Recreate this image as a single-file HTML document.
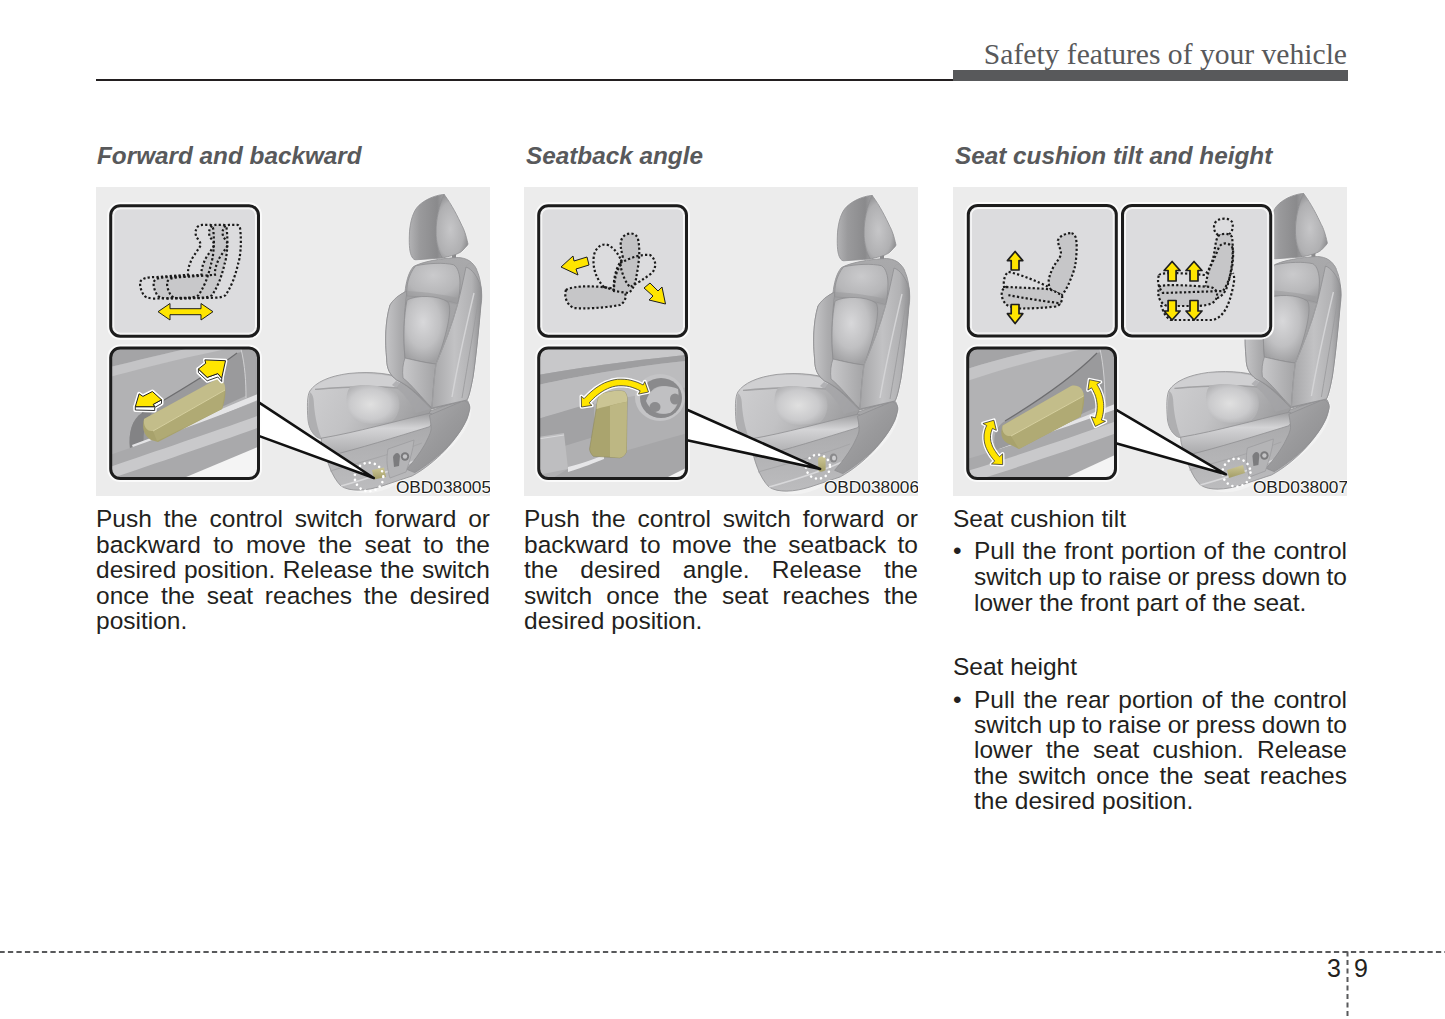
<!DOCTYPE html>
<html><head><meta charset="utf-8">
<style>
html,body{margin:0;padding:0;background:#fff;}
body{width:1445px;height:1019px;position:relative;overflow:hidden;font-family:"Liberation Sans",sans-serif;color:#231f20;}
.abs{position:absolute;}
.hdr{position:absolute;right:98px;top:40px;font-family:"Liberation Serif",serif;font-size:29.6px;color:#58595b;white-space:nowrap;line-height:1;}
.rule{position:absolute;left:96px;top:79px;width:857px;height:2px;background:#231f20;}
.bar{position:absolute;left:953px;top:70px;width:395px;height:11px;background:#58595b;}
h2{position:absolute;margin:0;font-size:24.3px;font-weight:bold;font-style:italic;color:#58595b;white-space:nowrap;line-height:1;}
.box{position:absolute;top:187px;width:394px;height:309px;background:#ececec;overflow:hidden;}
.cap{position:absolute;right:-1px;bottom:0px;font-size:17.3px;line-height:1;color:#231f20;text-shadow:1px 0 0 #fff,-1px 0 0 #fff,0 1px 0 #fff,0 -1px 0 #fff;}
.ln{position:absolute;font-size:24.5px;line-height:30px;height:30px;margin-top:-22.8px;white-space:nowrap;text-align:left;}
.j{text-align:justify;text-align-last:justify;word-spacing:-2px;}
.pg{position:absolute;font-size:25px;line-height:1;color:#231f20;}
</style></head>
<body>
<!--GEN-DEFS--><svg width="0" height="0" style="position:absolute">
<defs>
<linearGradient id="gHeadL" x1="0" y1="0" x2="1" y2="0"><stop offset="0" stop-color="#b2b2b4"/><stop offset="0.3" stop-color="#9a9a9c"/><stop offset="0.8" stop-color="#8a8a8c"/><stop offset="1" stop-color="#a2a2a4"/></linearGradient>
<radialGradient id="gHeadR" cx="0.45" cy="0.55" r="0.6"><stop offset="0" stop-color="#c6c6c8"/><stop offset="0.7" stop-color="#b0b0b2"/><stop offset="1" stop-color="#8c8c8e"/></radialGradient>
<linearGradient id="gBack" x1="0" y1="0" x2="0" y2="1"><stop offset="0" stop-color="#a9a9ab"/><stop offset="1" stop-color="#9c9c9e"/></linearGradient>
<linearGradient id="gBolL" x1="0" y1="0" x2="1" y2="0"><stop offset="0" stop-color="#c4c4c6"/><stop offset="0.35" stop-color="#acacae"/><stop offset="1" stop-color="#8e8e90"/></linearGradient>
<linearGradient id="gBolR" x1="0" y1="0" x2="1" y2="0"><stop offset="0" stop-color="#a6a6a8"/><stop offset="0.45" stop-color="#c2c2c4"/><stop offset="0.8" stop-color="#b2b2b4"/><stop offset="1" stop-color="#909092"/></linearGradient>
<radialGradient id="gLumb" cx="0.42" cy="0.38" r="0.62"><stop offset="0" stop-color="#d8d8da"/><stop offset="0.6" stop-color="#c0c0c2"/><stop offset="1" stop-color="#a0a0a2"/></radialGradient>
<radialGradient id="gShoul" cx="0.5" cy="0.3" r="0.7"><stop offset="0" stop-color="#cacacc"/><stop offset="0.7" stop-color="#b6b6b8"/><stop offset="1" stop-color="#a0a0a2"/></radialGradient>
<linearGradient id="gStrip" x1="0" y1="0" x2="1" y2="0"><stop offset="0" stop-color="#c8c8ca"/><stop offset="1" stop-color="#a4a4a6"/></linearGradient>
<linearGradient id="gCush" x1="0" y1="0" x2="1" y2="0.3"><stop offset="0" stop-color="#d0d0d2"/><stop offset="0.5" stop-color="#c2c2c4"/><stop offset="1" stop-color="#9e9ea0"/></linearGradient>
<radialGradient id="gBulge" cx="0.45" cy="0.5" r="0.55"><stop offset="0" stop-color="#e0e0e0"/><stop offset="0.7" stop-color="#cacacc"/><stop offset="1" stop-color="#b4b4b6"/></radialGradient>
<linearGradient id="gBase" x1="0" y1="0" x2="0" y2="1"><stop offset="0" stop-color="#a2a2a4"/><stop offset="0.5" stop-color="#b0b0b2"/><stop offset="1" stop-color="#bcbcbe"/></linearGradient>
<linearGradient id="gRoll" x1="0" y1="0" x2="0" y2="1"><stop offset="0" stop-color="#9e9ea0"/><stop offset="0.35" stop-color="#d4d4d6"/><stop offset="1" stop-color="#a8a8aa"/></linearGradient>
<linearGradient id="gCover" x1="0" y1="0" x2="1" y2="1"><stop offset="0" stop-color="#b0b0b2"/><stop offset="0.5" stop-color="#9a9a9c"/><stop offset="1" stop-color="#8a8a8c"/></linearGradient>
<linearGradient id="gPanel" x1="0" y1="0" x2="0.3" y2="1"><stop offset="0" stop-color="#b0b0b2"/><stop offset="0.35" stop-color="#a0a0a2"/><stop offset="0.7" stop-color="#bcbcbe"/><stop offset="1" stop-color="#aeaeb0"/></linearGradient>
<linearGradient id="gKhaki" x1="0" y1="0" x2="0" y2="1"><stop offset="0" stop-color="#cdc796"/><stop offset="1" stop-color="#a29c66"/></linearGradient>
<filter id="blur05"><feGaussianBlur stdDeviation="0.7"/></filter>
<filter id="blur2" x="-30%" y="-30%" width="160%" height="160%"><feGaussianBlur stdDeviation="2"/></filter>
<symbol id="seat" overflow="visible">
 <!-- white halo silhouette -->
 <g fill="#f2f2f2" stroke="#f2f2f2" stroke-width="2.2" stroke-linejoin="round">
  <path d="M348.2,7.4 C338,8 326,14 320.8,20.7 C316,27 313.5,38 313.3,48.9 C313,58 313.5,66 316,70 C317,72 318.5,73 320,72.8 L339.3,71.5 L353.5,69.3 C359,68 364,66 366,64 C369,61 372,58 372,56.9 C370,48 368,42 365.8,38.3 C362,30 356,18 348.2,7.4 Z"/>
  <path d="M317.3,79.7 C325,75 345,71 362.3,70.5 C370,71 377,74 380.7,83 C385,92 386,104 385,114 C383,140 380,170 377,190 C374,206 372,212 371,214 C374,215 376,222 372,234 C366,250 350,266 330,280 L300,296 C290,302 278,306 266,305 C256,304 248,300 244,292 C238,282 234,272 230,258 C220,254 214,245 212,230 C211,220 211,210 213.8,204 C220,195 233,189 253,186.4 C275,185 295,188 301,192 C294,188 290,182 290.7,172 C289,155 289,135 294,118 C300,110 306,107 309,104.7 C310,96 312,86 317.3,79.7 Z"/>
 </g>
 <!-- headrest post -->
 <rect x="356" y="64" width="4" height="10" fill="#8a8a8c"/>
 <!-- base side panel -->
 <path d="M226,252 C230,274 236,290 245,299 C254,305 270,304 286,299 L316,289 C340,276 362,252 371,232 C375,222 374,212 368,212 L334,224 Z" fill="url(#gBase)" stroke="#8e8e90" stroke-width="0.8"/>
 <path d="M234,284 C262,276 300,266 326,256" stroke="#a6a6a8" stroke-width="1" fill="none"/>
 <path d="M245,299 C270,292 296,284 318,274" stroke="#d8d8da" stroke-width="1.4" fill="none"/>
 <!-- cushion -->
 <path d="M213.8,204 C220,195 233,189 253,186.4 C277,184 296,187 309,192 L336,221 L332,228 C300,236 262,246 226,252 C219,251 213,243 212,233 C211,220 211,209 213.8,204 Z" fill="url(#gCush)" stroke="#8e8e90" stroke-width="0.8"/>
 <path d="M216,202 C222,196 236,190 253,187.5 C277,186 296,188 306,193 L300,201 C280,199 250,199 222,202 Z" fill="#d0d0d2"/>
 <path d="M219,202.5 C250,199.5 280,199 302,201" stroke="#a2a2a4" stroke-width="1.6" fill="none" filter="url(#blur05)"/>
 <path d="M213.8,205 C212,215 212,230 213,238 C215,246 220,252 226,252 C222,244 219,230 218,218 C218,212 217,207 213.8,205 Z" fill="#a9a9ab" opacity="0.8" filter="url(#blur05)"/>
 <path d="M254,200 C266,196 288,198 300,206 C306,214 304,228 296,234 C282,238 266,238 258,232 C250,224 248,208 254,200 Z" fill="url(#gBulge)" filter="url(#blur05)"/>
 <path d="M300,194 C310,198 322,206 334,222 L320,226 C314,214 306,204 296,198 Z" fill="#a4a4a6" opacity="0.7"/>
 <!-- cushion front roll -->
 <path d="M225.3,251.2 C262,245 300,234 331.9,226.6 C338,225 340,232 333.5,239.7 C300,250 262,262 231.9,269.2 C228,265 225,258 225.3,251.2 Z" fill="url(#gRoll)" stroke="#8e8e90" stroke-width="0.8"/>
 <!-- side cover -->
 <path d="M333.5,228.2 L368,213.5 C374,216 375,220 372.9,225 C370,235 366,242 361.4,247.9 C356,255 350,262 343.3,267.6 C336,274 328,280 318.8,285.6 L310.6,282.3 C318,274 324,266 328.6,257.8 C332,251 335,246 335.1,241.4 C335,236 334,232 333.5,228.2 Z" fill="url(#gCover)" stroke="#8e8e90" stroke-width="0.8"/>
 <!-- backrest outer -->
 <path d="M317.3,79.7 C325,75 345,71 362.3,70.5 C370,71 377,74 380.7,83 C385,92 386,104 385,114 C383,140 380,170 377,190 C374,206 372,212 370.7,213 L336,222 C325,212 315,200 300.7,193 C294,188 290.7,182 290.7,172 C289,155 289,135 294,118 C300,110 306,107 309,104.7 C310,96 312,86 317.3,79.7 Z" fill="url(#gBack)" stroke="#8e8e90" stroke-width="0.8"/>
 <!-- left bolster -->
 <path d="M311,104 C302,108 297,113 294,118 C289,135 289,155 290.7,172 C290.7,182 294,188 300.7,193 C312,198 320,206 330,215 C322,200 312,185 309,171 C307,150 308,125 311,104 Z" fill="url(#gBolL)" stroke="#8e8e90" stroke-width="0.8"/>
 <!-- shoulder panel -->
 <path d="M319.6,78.8 C333,76 348,75.5 357.4,77.7 C362,80 364,88 364,96 C364,104 363,111 361.8,116.6 C350,113 330,110 311,109 C310,100 312,88 319.6,78.8 Z" fill="url(#gShoul)" stroke="#8e8e90" stroke-width="0.8"/>
 <path d="M311,104 C330,105 350,108 362.5,111 L361.8,118 C350,115 330,112 311,112 Z" fill="#9c9c9e" opacity="0.55" filter="url(#blur05)"/>
 <!-- lumbar -->
 <path d="M311,113 C320,108 342,108 352,115 C357,122 350,150 340,177 C330,176 318,173 309,171 C307,150 308,128 311,113 Z" fill="url(#gLumb)" stroke="#8e8e90" stroke-width="0.8"/>
 <path d="M309,171 C318,173 330,176 340,177 C338,192 337,206 336,221 C325,210 316,198 307,191 C306,184 307,176 309,171 Z" fill="url(#gStrip)" stroke="#8e8e90" stroke-width="0.8"/>
 <!-- right bolster -->
 <path d="M361.8,116.6 C364,108 368,90 370,80 C376,82 382,90 385,100 C386,106 386,112 385,118 C383,140 380,170 377,190 C374,206 372,212 370.7,213 L336,221 C337,205 338,190 340,177 C348,158 356,138 361.8,116.6 Z" fill="url(#gBolR)" stroke="#8e8e90" stroke-width="0.8"/>
 <path d="M378,106 C370,140 362,175 356,210" stroke="#d4d4d6" stroke-width="1.4" fill="none"/>
 <path d="M383,110 C378,140 372,175 366,211" stroke="#9c9c9e" stroke-width="0.9" fill="none"/>
 <path d="M361.8,116.6 C356,138 348,158 340,177 C338,192 337,206 336,221" stroke="#a0a0a2" stroke-width="1" fill="none"/>
 <path d="M370,80 C372,74 378,76 381,83" stroke="#a4a4a6" stroke-width="0.8" fill="none"/>
 <!-- headrest -->
 <path d="M348.2,7.4 C338,8 326,14 320.8,20.7 C316,27 313.5,38 313.3,48.9 C313,58 313.5,66 316,70 C317,72 318.5,73 320,72.8 L339.3,71.5 L346.4,71 C342,64 340,55 340,45 C340,32 343,18 348.2,7.4 Z" fill="url(#gHeadL)" stroke="#8e8e90" stroke-width="0.8"/>
 <path d="M348.2,7.4 C343,18 340,32 340,45 C340,55 342,64 346.4,71 L353.5,69.3 C359,68 364,66 366,64 C369,61 372,58 372,56.9 C370,48 368,42 365.8,38.3 C362,30 356,18 348.2,7.4 Z" fill="url(#gHeadR)" stroke="#8e8e90" stroke-width="0.8"/>
</symbol>
</defs></svg><!--/GEN-DEFS-->

<div class="hdr">Safety features of your vehicle</div>
<div class="rule"></div>
<div class="bar"></div>

<h2 style="left:97px;top:143.5px;">Forward and backward</h2>
<h2 style="left:526px;top:143.5px;">Seatback angle</h2>
<h2 style="left:955px;top:143.5px;">Seat cushion tilt and height</h2>

<div class="box" style="left:96px;"><!--GEN-b1--><svg width="394" height="309" style="position:absolute;left:0;top:0;overflow:hidden"><use href="#seat"/><path d="M292,262 L318,253 C317,263 314,273 310,285 L294,291 C291,282 290,272 292,262 Z" fill="#b4b4b6" stroke="#9a9a9c" stroke-width="0.7"/><path d="M297,270 C299,265 303,265 304,269 L303,279 L298,280 Z" fill="#7c7c7e"/><circle cx="309" cy="269.5" r="4.2" fill="#7a7a7c"/><circle cx="309" cy="269.5" r="2.2" fill="#c4c4c6"/><path d="M276,283 L288,280.5 L290,290 L278,292.5 Z" fill="url(#gKhaki)"/><circle cx="273" cy="290" r="14.3" fill="none" stroke="#fff" stroke-width="2.6" stroke-linecap="round" stroke-dasharray="0.01 5.2"/><rect x="14.7" y="18.7" width="147.8" height="130.5" rx="9.5" fill="#dcdcde" stroke="#fafafa" stroke-width="7"/><rect x="16.9" y="20.9" width="143.4" height="126.1" rx="7.5" fill="none" stroke="#ededee" stroke-width="1"/><rect x="14.7" y="18.7" width="147.8" height="130.5" rx="9.5" fill="none" stroke="#1c1c1c" stroke-width="3"/><path transform="translate(13.5,0)" d="M44.3,94.8 C46,91 52,90 61,90 L92,87.8 C91.5,84 93,77 97,70 C101,64 104,60 104.4,58.6 C105,55 102,52 100.8,50.7 C99,47 99.5,44 100,43 C101,39 104,38 106.1,37.9 L114.1,37.9 C116,38 117,40 117.2,42 C118,50 118,57 117.6,62 C117,70 116,74 115,77.2 C113,86 111,91 109.7,94.8 C107,101 104,106 102.6,108.1 C100,110 96,110.7 92,110.7 L56.7,111.6 C52,111 49,110 47.8,108.1 C45,104 43.5,98 44.3,94.8 Z" fill="#c8c8ca" stroke="none"/><path d="M44.3,94.8 C46,91 52,90 61,90 L92,87.8 C91.5,84 93,77 97,70 C101,64 104,60 104.4,58.6 C105,55 102,52 100.8,50.7 C99,47 99.5,44 100,43 C101,39 104,38 106.1,37.9 L114.1,37.9 C116,38 117,40 117.2,42 C118,50 118,57 117.6,62 C117,70 116,74 115,77.2 C113,86 111,91 109.7,94.8 C107,101 104,106 102.6,108.1 C100,110 96,110.7 92,110.7 L56.7,111.6 C52,111 49,110 47.8,108.1 C45,104 43.5,98 44.3,94.8 Z" fill="none" stroke="#1a1a1a" stroke-width="2.2" stroke-dasharray="2.2 2.2" fill="none"/><path transform="translate(13.5,0)" d="M44.3,94.8 C46,91 52,90 61,90 L92,87.8 C91.5,84 93,77 97,70 C101,64 104,60 104.4,58.6 C105,55 102,52 100.8,50.7 C99,47 99.5,44 100,43 C101,39 104,38 106.1,37.9 L114.1,37.9 C116,38 117,40 117.2,42 C118,50 118,57 117.6,62 C117,70 116,74 115,77.2 C113,86 111,91 109.7,94.8 C107,101 104,106 102.6,108.1 C100,110 96,110.7 92,110.7 L56.7,111.6 C52,111 49,110 47.8,108.1 C45,104 43.5,98 44.3,94.8 Z" fill="none" stroke="#1a1a1a" stroke-width="2.2" stroke-dasharray="2.2 2.2" fill="none"/><path transform="translate(27,0)" d="M44.3,94.8 C46,91 52,90 61,90 L92,87.8 C91.5,84 93,77 97,70 C101,64 104,60 104.4,58.6 C105,55 102,52 100.8,50.7 C99,47 99.5,44 100,43 C101,39 104,38 106.1,37.9 L114.1,37.9 C116,38 117,40 117.2,42 C118,50 118,57 117.6,62 C117,70 116,74 115,77.2 C113,86 111,91 109.7,94.8 C107,101 104,106 102.6,108.1 C100,110 96,110.7 92,110.7 L56.7,111.6 C52,111 49,110 47.8,108.1 C45,104 43.5,98 44.3,94.8 Z" fill="none" stroke="#1a1a1a" stroke-width="2.2" stroke-dasharray="2.2 2.2" fill="none"/><path d="M62,124.7 L74,116.5 L74,121.7 L105,121.7 L105,116.5 L117,124.7 L105,133 L105,127.7 L74,127.7 L74,133 Z" fill="#ffe500" stroke="#1e1e1e" stroke-width="1" stroke-linejoin="round"/><rect x="14.7" y="161" width="147.8" height="130.5" rx="9.5" fill="none" stroke="#fafafa" stroke-width="7"/><clipPath id="c1"><rect x="14.7" y="161" width="147.8" height="130.5" rx="9.5"/></clipPath><g clip-path="url(#c1)"><rect x="14" y="160" width="150" height="133" fill="#b2b2b4"/><path d="M14,160 L100,160 C70,166 40,174 14,180 Z" fill="#a4a4a6"/><path d="M14,180 C40,174 70,166 100,160 L140,160 C100,168 50,180 14,190 Z" fill="#c4c4c6" filter="url(#blur05)"/><path d="M34,262 C32,246 36,232 46,226 C80,206 115,186 141,166 L150,164 L156,206 C120,222 80,242 38,262 Z" fill="#9a9a9c"/><path d="M34,262 C32,246 36,232 46,226 L60,220 C50,232 46,246 48,258 Z" fill="#838385"/><path d="M46,226 C80,206 115,186 141,166" stroke="#6e6e70" stroke-width="1.2" fill="none"/><path d="M145,162 L162,160 L162,214 L150,211 C150,195 149,178 145,162 Z" fill="#a6a6a8"/><path d="M145,162 C149,178 150,195 150,211" stroke="#d0d0d2" stroke-width="1" fill="none"/><path d="M36,258 C80,242 120,224 162,207 L162,213 C120,230 80,248 38,263 Z" fill="#e4e4e6"/><path d="M14,268 C60,252 120,230 164,213 L164,300 L14,300 Z" fill="#a9a9ab"/><path d="M14,280 C60,264 120,244 164,228 L164,240 C120,256 60,276 14,292 Z" fill="#c9c9cb"/><path d="M83,293 L164,259 L164,295 Z" fill="#f4f4f4"/></g><path d="M48,232 C46,240 47,248 55,253 L62,255 L126,222 C129,214 130,206 129,200 L121,193 Z" fill="#a8a26c"/><path d="M48,232 L119,193 C125,191 130,196 129,203 L57,244 C51,245 47,239 48,232 Z" fill="#c3bd8a"/><path d="M57,244 L129,203 L126,222 L61,254 Z" fill="#b0aa74"/><path d="M57,244 L129,203" stroke="#d6d0a0" stroke-width="1" fill="none"/><path d="M39.3,219.7 L43.1,206.8 L46.9,209.4 L56.4,204.5 L65.5,212.8 L57.2,217.4 L58.7,219.7 Z" fill="#fff" stroke="#fff" stroke-width="4" stroke-linejoin="round"/><path d="M39.3,219.7 L58.7,219.7 L57.2,217.4 L65.5,212.8 L65.5,216.5 L58.7,220.5 L58.7,223.5 L39.3,223 Z" fill="#fff" stroke="#fff" stroke-width="4" stroke-linejoin="round"/><path d="M129.5,173.7 L125.7,191.2 L121.8,186.6 L111.2,190.4 L102.4,182 L109.7,176.3 L108.9,172.9 Z" fill="#fff" stroke="#fff" stroke-width="4" stroke-linejoin="round"/><path d="M102.4,182 L111.2,190.4 L121.8,186.6 L125.7,191.2 L125.7,194.5 L121.8,190 L111.2,193.8 L102.4,185.5 Z" fill="#fff" stroke="#fff" stroke-width="4" stroke-linejoin="round"/><path d="M39.3,219.7 L58.7,219.7 L57.2,217.4 L65.5,212.8 L65.5,216.5 L58.7,220.5 L58.7,223.5 L39.3,223 Z" fill="#fff" stroke="#1e1e1e" stroke-width="0.9" stroke-linejoin="round"/><path d="M102.4,182 L111.2,190.4 L121.8,186.6 L125.7,191.2 L125.7,194.5 L121.8,190 L111.2,193.8 L102.4,185.5 Z" fill="#fff" stroke="#1e1e1e" stroke-width="0.9" stroke-linejoin="round"/><path d="M39.3,219.7 L43.1,206.8 L46.9,209.4 L56.4,204.5 L65.5,212.8 L57.2,217.4 L58.7,219.7 Z" fill="#ffe500" stroke="#1e1e1e" stroke-width="1" stroke-linejoin="round"/><path d="M129.5,173.7 L125.7,191.2 L121.8,186.6 L111.2,190.4 L102.4,182 L109.7,176.3 L108.9,172.9 Z" fill="#ffe500" stroke="#1e1e1e" stroke-width="1" stroke-linejoin="round"/><path d="M162,214.8 L277.8,291 L162,248.6 Z" fill="#fff"/><path d="M162,214.8 L277.8,291 L162,248.6" fill="none" stroke="#111" stroke-width="2.6" stroke-linejoin="round"/><rect x="14.7" y="161" width="147.8" height="130.5" rx="9.5" fill="none" stroke="#1c1c1c" stroke-width="3"/></svg><!--/GEN-b1--><div class="cap">OBD038005</div></div>
<div class="box" style="left:524px;"><!--GEN-b2--><svg width="394" height="309" style="position:absolute;left:0;top:0;overflow:hidden"><use href="#seat" transform="translate(0,1)"/><ellipse cx="309.5" cy="271" rx="3.8" ry="4.6" fill="#8a8a8c"/><ellipse cx="310" cy="271" rx="2" ry="2.6" fill="#cfcfd1"/><path d="M294,272 C295,269 300,269 301.6,271 L301.6,283 C299,285 296,285 294.5,284 Z" fill="url(#gKhaki)"/><circle cx="294" cy="279.7" r="12" fill="none" stroke="#fff" stroke-width="2.6" stroke-linecap="round" stroke-dasharray="0.01 5.2"/><rect x="14.7" y="18.7" width="147.8" height="130.5" rx="9.5" fill="#dcdcde" stroke="#fafafa" stroke-width="7"/><rect x="16.9" y="20.9" width="143.4" height="126.1" rx="7.5" fill="none" stroke="#ededee" stroke-width="1"/><rect x="14.7" y="18.7" width="147.8" height="130.5" rx="9.5" fill="none" stroke="#1c1c1c" stroke-width="3"/><path d="M42,103 C48,98 80,98 100,104 C104,110 100,116 96,118 C80,121 60,122 50,121 C42,118 40,108 42,103 Z" fill="#c6c6c8" stroke="#1a1a1a" stroke-width="2.2" stroke-dasharray="2.2 2.2" fill="none"/><path d="M90,104 C89,92 92,80 99,71 C97,62 95,55 99,50 C103,45 112,45 114,52 C117,66 114,80 112,92 C110,100 108,104 104,106 Z" fill="#c3c3c5" stroke="#1a1a1a" stroke-width="2.2" stroke-dasharray="2.2 2.2" fill="none"/><path d="M80,100 C72,92 68,80 70,68 C72,60 78,56 84,58 C92,62 96,70 98,76 C93,82 90,92 90,103 Z" fill="none" stroke="#1a1a1a" stroke-width="2.2" stroke-dasharray="2.2 2.2" fill="none"/><path d="M96,76 C108,70 118,67 126,68 C132,72 133,80 128,86 C120,92 112,97 106,100 C102,96 98,88 96,76 Z" fill="none" stroke="#1a1a1a" stroke-width="2.2" stroke-dasharray="2.2 2.2" fill="none"/><path d="M37,80 L49,69 L50,74 L63,70 L65,78 L52,82 L54,88 Z" fill="#ffe500" stroke="#1e1e1e" stroke-width="1" stroke-linejoin="round"/><path d="M141.5,117 L125,113 L129,109 L120,101 L126,96 L134,104 L138,100 Z" fill="#ffe500" stroke="#1e1e1e" stroke-width="1" stroke-linejoin="round"/><rect x="14.7" y="161" width="147.8" height="130.5" rx="9.5" fill="none" stroke="#fafafa" stroke-width="7"/><clipPath id="c2"><rect x="14.7" y="161" width="147.8" height="130.5" rx="9.5"/></clipPath><g clip-path="url(#c2)"><rect x="14" y="160" width="150" height="133" fill="#b0b0b2"/><path d="M14,160 L164,160 L164,168 C120,172 60,180 14,188 Z" fill="#c8c8ca"/><path d="M14,188 C60,180 120,172 164,168 L164,174 C120,178 60,188 14,198 Z" fill="#9e9ea0"/><path d="M14,198 C60,188 120,178 164,174 L164,200 C120,206 60,218 14,232 Z" fill="#bcbcbe"/><path d="M14,232 C40,224 60,218 70,216 L70,250 C50,256 30,262 14,268 Z" fill="#a2a2a4"/><path d="M14,250 L40,246 L44,282 L14,288 Z" fill="#bebec0"/><path d="M14,252 L40,248" stroke="#d8d8da" stroke-width="1.2"/><path d="M44,282 C80,270 120,258 164,246 L164,300 L14,300 Z" fill="#a6a6a8"/><path d="M44,280 C60,276 70,272 80,268 L80,272 C70,276 60,280 44,285 Z" fill="#e6e6e8"/><path d="M138,293 L164,280 L164,295 Z" fill="#f4f4f4"/></g><ellipse cx="136" cy="210.5" rx="25" ry="23.5" fill="#c4c4c6"/><ellipse cx="137" cy="211" rx="21" ry="20" fill="#8a8a8c"/><ellipse cx="139" cy="213" rx="15" ry="14" fill="#b6b6b8"/><path d="M122,214 C126,200 140,196 154,202 C156,212 152,222 146,226 C136,228 126,224 122,214 Z" fill="#c0c0c2"/><ellipse cx="131" cy="220" rx="5.5" ry="5" fill="#8c8c8e"/><ellipse cx="151" cy="212" rx="5" ry="5.5" fill="#8c8c8e"/><path d="M76.7,207.5 C85,204 95,203 100.2,204.5 C103,207 103.5,211 103.1,214.8 L102.4,264.9 C101,268 99,270 95.8,270.8 L69.3,269.3 C67,267 65.6,264 65.6,261.9 L72.2,222.2 C73,215 74,210 76.7,207.5 Z" fill="#aaa46e" stroke="#8e8a5c" stroke-width="0.6"/><path d="M76.7,207.5 C85,204 95,203 100.2,204.5 C103,207 103.5,211 103.1,214.8 C96,216 84,219 72.5,222 C73,215 74,210 76.7,207.5 Z" fill="#cbc594"/><path d="M86,219 C92,217 98,215.5 103.1,214.8 L102.4,264.9 C101,268 99,270 95.8,270.8 L86,270 Z" fill="#bdb783"/><path d="M57.3,209.3 L57.5,220.0 L67.9,218.4 L65.1,215.9 L67.1,213.8 L69.2,211.7 L71.3,209.7 L73.5,207.9 L75.9,206.1 L78.3,204.5 L80.7,203.1 L83.3,201.8 L85.9,200.7 L88.6,199.8 L91.4,199.2 L94.2,198.8 L97.0,198.7 L99.9,198.8 L102.7,199.1 L105.5,199.6 L108.2,200.4 L110.9,201.4 L113.6,202.5 L116.2,203.8 L114.5,207.1 L124.5,205.0 L120.8,194.6 L119.1,198.0 L116.2,196.5 L113.1,195.2 L110.0,194.2 L106.8,193.3 L103.5,192.6 L100.2,192.3 L96.9,192.2 L93.5,192.3 L90.2,192.8 L87.0,193.6 L83.8,194.6 L80.7,195.8 L77.7,197.3 L74.9,199.0 L72.1,200.8 L69.5,202.8 L67.0,204.9 L64.6,207.1 L62.3,209.3 L60.1,211.7 Z" fill="#fff" stroke="#fff" stroke-width="3.6" stroke-linejoin="round"/><path d="M57.3,209.3 L57.5,220.0 L67.9,218.4 L65.1,215.9 L67.1,213.8 L69.2,211.7 L71.3,209.7 L73.5,207.9 L75.9,206.1 L78.3,204.5 L80.7,203.1 L83.3,201.8 L85.9,200.7 L88.6,199.8 L91.4,199.2 L94.2,198.8 L97.0,198.7 L99.9,198.8 L102.7,199.1 L105.5,199.6 L108.2,200.4 L110.9,201.4 L113.6,202.5 L116.2,203.8 L114.5,207.1 L124.5,205.0 L120.8,194.6 L119.1,198.0 L116.2,196.5 L113.1,195.2 L110.0,194.2 L106.8,193.3 L103.5,192.6 L100.2,192.3 L96.9,192.2 L93.5,192.3 L90.2,192.8 L87.0,193.6 L83.8,194.6 L80.7,195.8 L77.7,197.3 L74.9,199.0 L72.1,200.8 L69.5,202.8 L67.0,204.9 L64.6,207.1 L62.3,209.3 L60.1,211.7 Z" fill="#ffe500" stroke="#333" stroke-width="0.8" stroke-linejoin="round"/><path d="M162,222.2 L296.1,281.9 L162,253 Z" fill="#fff"/><path d="M162,222.2 L296.1,281.9 L162,253" fill="none" stroke="#111" stroke-width="2.6" stroke-linejoin="round"/><rect x="14.7" y="161" width="147.8" height="130.5" rx="9.5" fill="none" stroke="#1c1c1c" stroke-width="3"/></svg><!--/GEN-b2--><div class="cap">OBD038006</div></div>
<div class="box" style="left:953px;"><!--GEN-b3--><svg width="394" height="309" style="position:absolute;left:0;top:0;overflow:hidden"><use href="#seat" transform="translate(2.4,-1)"/><g transform="translate(2.4,-1)"><path d="M292,262 L318,253 C317,263 314,273 310,285 L294,291 C291,282 290,272 292,262 Z" fill="#b4b4b6" stroke="#9a9a9c" stroke-width="0.7"/><path d="M297,270 C299,265 303,265 304,269 L303,279 L298,280 Z" fill="#7c7c7e"/><circle cx="309" cy="269.5" r="4.2" fill="#7a7a7c"/><circle cx="309" cy="269.5" r="2.2" fill="#c4c4c6"/></g><path d="M274,283 L290,278 L292,286 L276,291 Z" fill="url(#gKhaki)"/><circle cx="283.5" cy="285.6" r="14" fill="none" stroke="#fff" stroke-width="2.6" stroke-linecap="round" stroke-dasharray="0.01 5.2"/><rect x="15.3" y="18.4" width="148" height="130.5" rx="9.5" fill="#dcdcde" stroke="#fafafa" stroke-width="7"/><rect x="17.5" y="20.599999999999998" width="143.6" height="126.1" rx="7.5" fill="none" stroke="#ededee" stroke-width="1"/><rect x="15.3" y="18.4" width="148" height="130.5" rx="9.5" fill="none" stroke="#1c1c1c" stroke-width="3"/><rect x="169.5" y="18.4" width="148.2" height="130.5" rx="9.5" fill="#dcdcde" stroke="#fafafa" stroke-width="7"/><rect x="171.7" y="20.599999999999998" width="143.79999999999998" height="126.1" rx="7.5" fill="none" stroke="#ededee" stroke-width="1"/><rect x="169.5" y="18.4" width="148.2" height="130.5" rx="9.5" fill="none" stroke="#1c1c1c" stroke-width="3"/><path d="M117.3,46.2 C111,46.5 106,50 104.9,53.5 C105,58 108,62 108,66.9 C107,72 102,76 99.7,81.3 C97,87 95.5,92 95.6,95.7 C96,100 97.5,103 99.7,104 L109,108.1 C112,104 114.5,100 116.2,95.7 C119,89 121.5,83 122.4,77.2 C123.5,70 124,60 123.4,54.5 C123,49 121,46 117.3,46.2 Z" fill="#c6c6c8" stroke="#1a1a1a" stroke-width="2.2" stroke-dasharray="2.2 2.2" fill="none"/><path d="M53.3,99.9 C62,100.5 80,101 93.5,101.9 C100,103 106,106 109,109.1 C110,113 107,118 103.9,119.4 C90,121 78,121.5 67.8,121.5 C60,121 54,119 52.3,116.4 C49,113 48,107 49.2,104 C50,101.5 52,100 53.3,99.9 Z" fill="#c6c6c8" stroke="#1a1a1a" stroke-width="2.2" stroke-dasharray="2.2 2.2" fill="none"/><path d="M51.3,101 C50,96 51,88 55.4,84.9 C70,88 85,95 95.6,99.9" fill="none" stroke="#1a1a1a" stroke-width="2.2" stroke-dasharray="2.2 2.2" fill="none"/><path d="M55.4,108.1 C70,111 90,114 108,116.4" fill="none" stroke="#1a1a1a" stroke-width="2.2" stroke-dasharray="2.2 2.2" fill="none"/><path d="M62.1,64.5 L69.8,73.6 L66,73.6 L66,83 L58.2,83 L58.2,73.6 L54.4,73.6 Z" fill="#ffe500" stroke="#1e1e1e" stroke-width="1.7" stroke-linejoin="round"/><path d="M62.1,136.5 L69.8,126.7 L66,126.7 L66,117.5 L58.2,117.5 L58.2,126.7 L54.4,126.7 Z" fill="#ffe500" stroke="#1e1e1e" stroke-width="1.7" stroke-linejoin="round"/><path d="M262,36 C264,31 276,30 279,35 C281,40 279,46 275,48 L265,48 C261,45 260,40 262,36 Z" fill="none" stroke="#1a1a1a" stroke-width="2.2" stroke-dasharray="2.2 2.2" fill="none"/><path d="M265,49 C269,46 277,46 279,50 C281,65 279,85 274,100 C272,106 268,110 264,111 L252,108 C252,95 256,82 260,72 C262,64 262,55 265,49 Z" fill="#c6c6c8" stroke="#1a1a1a" stroke-width="2.2" stroke-dasharray="2.2 2.2" fill="none"/><path d="M206,100 C208,97 230,98 258,100 C264,102 266,108 262,114 C258,118 250,119 240,119 L214,119 C206,116 204,108 206,100 Z" fill="#c6c6c8" stroke="#1a1a1a" stroke-width="2.2" stroke-dasharray="2.2 2.2" fill="none"/><path d="M206,88 C208,85 230,86 252,88 C258,80 262,70 266,60 C270,54 278,56 280,62 C281,80 276,96 270,104 L210,106 C205,100 204,94 206,88 Z" fill="none" stroke="#1a1a1a" stroke-width="2.2" stroke-dasharray="2.2 2.2" fill="none"/><path d="M208,118 C210,124 212,130 218,133 L260,133 C270,130 276,120 280,100 C281,96 282,90 280,86" fill="none" stroke="#1a1a1a" stroke-width="2.2" stroke-dasharray="2.2 2.2" fill="none"/><path d="M219.1,74.5 L227.1,83.5 L223.1,83.5 L223.1,94 L215.1,94 L215.1,83.5 L211.1,83.5 Z" fill="#ffe500" stroke="#1e1e1e" stroke-width="1.7" stroke-linejoin="round"/><path d="M219.1,133 L227.1,124 L223.1,124 L223.1,113.5 L215.1,113.5 L215.1,124 L211.1,124 Z" fill="#ffe500" stroke="#1e1e1e" stroke-width="1.7" stroke-linejoin="round"/><path d="M241,74.5 L249,83.5 L245,83.5 L245,94 L237,94 L237,83.5 L233,83.5 Z" fill="#ffe500" stroke="#1e1e1e" stroke-width="1.7" stroke-linejoin="round"/><path d="M241,133 L249,124 L245,124 L245,113.5 L237,113.5 L237,124 L233,124 Z" fill="#ffe500" stroke="#1e1e1e" stroke-width="1.7" stroke-linejoin="round"/><rect x="14.7" y="161" width="147.8" height="130.5" rx="9.5" fill="none" stroke="#fafafa" stroke-width="7"/><clipPath id="c3"><rect x="14.7" y="161" width="147.8" height="130.5" rx="9.5"/></clipPath><g clip-path="url(#c3)"><rect x="14" y="160" width="150" height="133" fill="#b2b2b4"/><path d="M14,160 L100,160 C70,166 40,174 14,182 Z" fill="#a4a4a6"/><path d="M14,182 C40,174 70,166 100,160 L140,160 C100,168 50,182 14,194 Z" fill="#c4c4c6" filter="url(#blur05)"/><path d="M42,262 C40,250 42,240 52,234 C85,214 120,190 144,166 L152,164 L158,214 C120,230 85,248 46,266 Z" fill="#9a9a9c"/><path d="M52,234 C85,214 120,190 144,166" stroke="#6e6e70" stroke-width="1.2" fill="none"/><path d="M147,162 L163,160 L163,221 L152,218 C152,200 151,180 147,162 Z" fill="#a6a6a8"/><path d="M147,162 C151,180 152,200 152,218" stroke="#d0d0d2" stroke-width="1" fill="none"/><path d="M46,262 C85,248 125,232 164,216 L164,222 C125,238 85,254 48,268 Z" fill="#e4e4e6"/><path d="M14,272 C60,258 120,238 164,222 L164,300 L14,300 Z" fill="#a9a9ab"/><path d="M14,284 C60,270 120,250 164,234 L164,246 C120,262 60,282 14,296 Z" fill="#c9c9cb"/><path d="M108,293 L164,267 L164,295 Z" fill="#f4f4f4"/></g><path d="M49.7,238.4 C47,246 48,252 54,256 L65.9,261.9 L127.7,229.5 C131,220 132,212 130.6,206 L120.3,198.6 Z" fill="#a8a26c"/><path d="M49.7,238.4 L118,199 C125,197 131,202 130.6,209 L58,249 C52,250 48,244 49.7,238.4 Z" fill="#c3bd8a"/><path d="M58,249 L130.6,209 L127.7,229.5 L65.9,261.9 Z" fill="#b0aa74"/><path d="M58,249 L130.6,209" stroke="#d6d0a0" stroke-width="1" fill="none"/><path d="M43.3,243.3 L40.9,233.2 L29.9,236.5 L33.7,238.5 L32.9,240.3 L32.2,242.1 L31.7,244.1 L31.3,246.0 L31.0,248.0 L31.0,250.1 L31.0,252.1 L31.3,254.1 L31.6,256.0 L32.1,257.9 L32.7,259.8 L33.4,261.4 L34.2,263.2 L35.1,264.9 L36.1,266.6 L37.1,268.2 L38.1,269.7 L39.3,271.2 L40.5,272.7 L41.7,274.1 L38.5,277.0 L49.7,277.6 L49.6,266.8 L46.5,269.7 L45.4,268.5 L44.4,267.2 L43.5,266.0 L42.5,264.5 L41.6,263.2 L40.8,261.8 L40.1,260.5 L39.4,259.1 L38.8,257.4 L38.3,256.0 L37.9,254.5 L37.7,253.0 L37.5,251.6 L37.5,250.1 L37.5,248.6 L37.7,247.1 L38.0,245.6 L38.4,244.2 L38.9,242.8 L39.5,241.4 Z" fill="#fff" stroke="#fff" stroke-width="3.6" stroke-linejoin="round"/><path d="M43.3,243.3 L40.9,233.2 L29.9,236.5 L33.7,238.5 L32.9,240.3 L32.2,242.1 L31.7,244.1 L31.3,246.0 L31.0,248.0 L31.0,250.1 L31.0,252.1 L31.3,254.1 L31.6,256.0 L32.1,257.9 L32.7,259.8 L33.4,261.4 L34.2,263.2 L35.1,264.9 L36.1,266.6 L37.1,268.2 L38.1,269.7 L39.3,271.2 L40.5,272.7 L41.7,274.1 L38.5,277.0 L49.7,277.6 L49.6,266.8 L46.5,269.7 L45.4,268.5 L44.4,267.2 L43.5,266.0 L42.5,264.5 L41.6,263.2 L40.8,261.8 L40.1,260.5 L39.4,259.1 L38.8,257.4 L38.3,256.0 L37.9,254.5 L37.7,253.0 L37.5,251.6 L37.5,250.1 L37.5,248.6 L37.7,247.1 L38.0,245.6 L38.4,244.2 L38.9,242.8 L39.5,241.4 Z" fill="#ffe500" stroke="#333" stroke-width="0.8" stroke-linejoin="round"/><path d="M147.5,195.0 L136.4,192.7 L134.9,203.1 L138.5,200.8 L139.3,202.2 L140.1,203.5 L140.8,205.1 L141.5,206.5 L142.1,207.9 L142.6,209.4 L143.0,210.9 L143.4,212.3 L143.7,213.9 L143.9,215.4 L144.1,217.1 L144.2,218.6 L144.2,220.2 L144.1,221.7 L144.0,223.2 L143.8,224.8 L143.5,226.3 L143.1,228.0 L142.7,229.5 L142.3,231.0 L138.2,229.7 L142.3,239.4 L152.5,234.3 L148.4,233.0 L149.0,231.2 L149.5,229.4 L149.8,227.7 L150.2,225.9 L150.4,224.0 L150.6,222.1 L150.7,220.2 L150.7,218.3 L150.6,216.5 L150.4,214.7 L150.1,212.9 L149.8,211.0 L149.3,209.2 L148.7,207.3 L148.1,205.6 L147.4,203.8 L146.6,202.1 L145.8,200.6 L144.9,198.9 L143.9,197.3 Z" fill="#fff" stroke="#fff" stroke-width="3.6" stroke-linejoin="round"/><path d="M147.5,195.0 L136.4,192.7 L134.9,203.1 L138.5,200.8 L139.3,202.2 L140.1,203.5 L140.8,205.1 L141.5,206.5 L142.1,207.9 L142.6,209.4 L143.0,210.9 L143.4,212.3 L143.7,213.9 L143.9,215.4 L144.1,217.1 L144.2,218.6 L144.2,220.2 L144.1,221.7 L144.0,223.2 L143.8,224.8 L143.5,226.3 L143.1,228.0 L142.7,229.5 L142.3,231.0 L138.2,229.7 L142.3,239.4 L152.5,234.3 L148.4,233.0 L149.0,231.2 L149.5,229.4 L149.8,227.7 L150.2,225.9 L150.4,224.0 L150.6,222.1 L150.7,220.2 L150.7,218.3 L150.6,216.5 L150.4,214.7 L150.1,212.9 L149.8,211.0 L149.3,209.2 L148.7,207.3 L148.1,205.6 L147.4,203.8 L146.6,202.1 L145.8,200.6 L144.9,198.9 L143.9,197.3 Z" fill="#ffe500" stroke="#333" stroke-width="0.8" stroke-linejoin="round"/><path d="M162,222.2 L272.9,287.3 L162,256 Z" fill="#fff"/><path d="M162,222.2 L272.9,287.3 L162,256" fill="none" stroke="#111" stroke-width="2.6" stroke-linejoin="round"/><rect x="14.7" y="161" width="147.8" height="130.5" rx="9.5" fill="none" stroke="#1c1c1c" stroke-width="3"/></svg><!--/GEN-b3--><div class="cap">OBD038007</div></div>

<div class="ln j" style="left:96px;top:526.8px;width:394px;">Push the control switch forward or</div>
<div class="ln j" style="left:96px;top:552.4px;width:394px;">backward to move the seat to the</div>
<div class="ln j" style="left:96px;top:577.6px;width:394px;">desired position. Release the switch</div>
<div class="ln j" style="left:96px;top:603.3px;width:394px;">once the seat reaches the desired</div>
<div class="ln" style="left:96px;top:628.8px;width:394px;">position.</div>
<div class="ln j" style="left:524px;top:526.8px;width:394px;">Push the control switch forward or</div>
<div class="ln j" style="left:524px;top:552.4px;width:394px;">backward to move the seatback to</div>
<div class="ln j" style="left:524px;top:577.6px;width:394px;">the desired angle. Release the</div>
<div class="ln j" style="left:524px;top:603.3px;width:394px;">switch once the seat reaches the</div>
<div class="ln" style="left:524px;top:628.8px;width:394px;">desired position.</div>
<div class="ln" style="left:953px;top:526.8px;width:394px;">Seat cushion tilt</div>
<div class="ln j" style="left:974px;top:559.1px;width:373px;">Pull the front portion of the control</div>
<div class="ln" style="left:953px;top:559.1px;width:20px;">&#8226;</div>
<div class="ln j" style="left:974px;top:584.8px;width:373px;">switch up to raise or press down to</div>
<div class="ln" style="left:974px;top:610.6px;width:373px;">lower the front part of the seat.</div>
<div class="ln" style="left:953px;top:674.4px;width:394px;">Seat height</div>
<div class="ln j" style="left:974px;top:707.3px;width:373px;">Pull the rear portion of the control</div>
<div class="ln" style="left:953px;top:707.3px;width:20px;">&#8226;</div>
<div class="ln j" style="left:974px;top:733.1px;width:373px;">switch up to raise or press down to</div>
<div class="ln j" style="left:974px;top:758.2px;width:373px;">lower the seat cushion. Release</div>
<div class="ln j" style="left:974px;top:783.4px;width:373px;">the switch once the seat reaches</div>
<div class="ln" style="left:974px;top:808.5px;width:373px;">the desired position.</div>


<svg class="abs" style="left:0;top:0;" width="1445" height="1019">
<line x1="0" y1="952" x2="1445" y2="952" stroke="#58595b" stroke-width="2" stroke-dasharray="5.3 3.2" stroke-dashoffset="0.6"/>
<line x1="1347.5" y1="951.5" x2="1347.5" y2="1019" stroke="#58595b" stroke-width="2" stroke-dasharray="5 3.5"/>
</svg>
<div class="pg" style="left:1327px;top:956px;">3</div>
<div class="pg" style="left:1354px;top:956px;">9</div>
</body></html>
